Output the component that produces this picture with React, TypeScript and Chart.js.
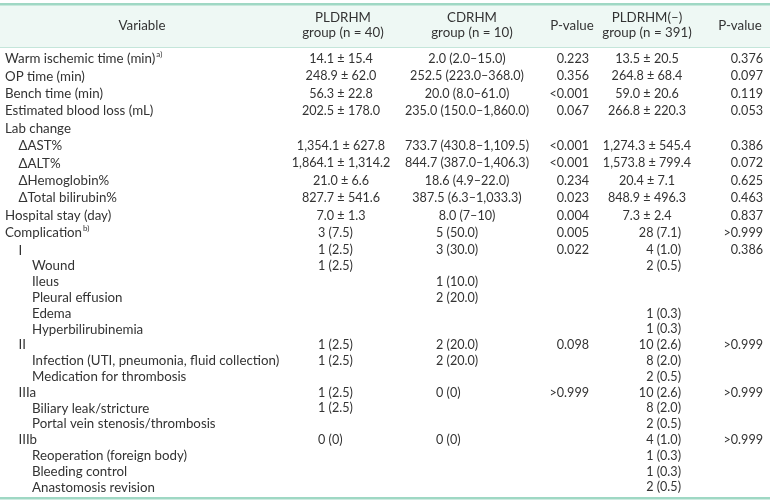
import React, { useEffect, useRef } from "react";
import { Chart, registerables } from "chart.js";

Chart.register(...registerables);

// ---------- data ----------
const headers = ["Variable", "PLDRHM\ngroup (n = 40)", "CDRHM\ngroup (n = 10)", "P-value", "PLDRHM(–)\ngroup (n = 391)", "P-value"];

const variables = [
  "Warm ischemic time (min)", "OP time (min)", "Bench time (min)", "Estimated blood loss (mL)",
  "Lab change", "ΔAST%", "ΔALT%", "ΔHemoglobin%", "ΔTotal bilirubin%",
  "Hospital stay (day)", "Complication", "I", "Wound", "Ileus", "Pleural effusion", "Edema",
  "Hyperbilirubinemia", "II", "Infection (UTI, pneumonia, fluid collection)", "Medication for thrombosis",
  "IIIa", "Biliary leak/stricture", "Portal vein stenosis/thrombosis", "IIIb",
  "Reoperation (foreign body)", "Bleeding control", "Anastomosis revision",
];
const indentLevels = [0, 0, 0, 0, 0, 1, 1, 1, 1, 0, 0, 1, 2, 2, 2, 2, 2, 1, 2, 2, 1, 2, 2, 1, 2, 2, 2];
const footnotes = ["a)", "", "", "", "", "", "", "", "", "", "b)", "", "", "", "", "", "", "", "", "", "", "", "", "", "", "", ""];

const pldrhm = [
  "14.1 ± 15.4", "248.9 ± 62.0", "56.3 ± 22.8", "202.5 ± 178.0", "",
  "1,354.1 ± 627.8", "1,864.1 ± 1,314.2", "21.0 ± 6.6", "827.7 ± 541.6", "7.0 ± 1.3",
  "3 (7.5)", "1 (2.5)", "1 (2.5)", "", "", "", "", "1 (2.5)", "1 (2.5)", "", "1 (2.5)", "1 (2.5)", "", "0 (0)", "", "", "",
];
const cdrhm = [
  "2.0 (2.0–15.0)", "252.5 (223.0–368.0)", "20.0 (8.0–61.0)", "235.0 (150.0–1,860.0)", "",
  "733.7 (430.8–1,109.5)", "844.7 (387.0–1,406.3)", "18.6 (4.9–22.0)", "387.5 (6.3–1,033.3)", "8.0 (7–10)",
  "5 (50.0)", "3 (30.0)", "", "1 (10.0)", "2 (20.0)", "", "", "2 (20.0)", "2 (20.0)", "", "0 (0)", "", "", "0 (0)", "", "", "",
];
const pValue1 = [
  "0.223", "0.356", "<0.001", "0.067", "", "<0.001", "<0.001", "0.234", "0.023", "0.004",
  "0.005", "0.022", "", "", "", "", "", "0.098", "", "", ">0.999", "", "", "", "", "", "",
];
const pldrhmNeg = [
  "13.5 ± 20.5", "264.8 ± 68.4", "59.0 ± 20.6", "266.8 ± 220.3", "",
  "1,274.3 ± 545.4", "1,573.8 ± 799.4", "20.4 ± 7.1", "848.9 ± 496.3", "7.3 ± 2.4",
  "28 (7.1)", "4 (1.0)", "2 (0.5)", "", "", "1 (0.3)", "1 (0.3)", "10 (2.6)", "8 (2.0)", "2 (0.5)",
  "10 (2.6)", "8 (2.0)", "2 (0.5)", "4 (1.0)", "1 (0.3)", "1 (0.3)", "2 (0.5)",
];
const pValue2 = [
  "0.376", "0.097", "0.119", "0.053", "", "0.386", "0.072", "0.625", "0.463", "0.837",
  ">0.999", "0.386", "", "", "", "", "", ">0.999", "", "", ">0.999", "", "", ">0.999", "", "", "",
];

// ---------- layout / style ----------
const W = 770;
const H = 504;
const FONT = '"Lato", "Open Sans", sans-serif';
const FS = 13.3;
const FS_NUM = 12.6;
const TEXT = "#333333";
const GREEN = "#9fd8c4";
const HEAD_BG = "#eef8f4";
const FIRST_COMPLICATION_ROW = 10;
// vertical layout (y scale in layout units, top = 0)
const FIRST_ROW_Y = 59;
const UPPER_PITCH = 17.4;
const LOWER_PITCH = 15.8;
const PITCH_BREAK = 11;
const rowY = (i: number) =>
  i <= PITCH_BREAK
    ? FIRST_ROW_Y + i * UPPER_PITCH
    : FIRST_ROW_Y + PITCH_BREAK * UPPER_PITCH + (i - PITCH_BREAK) * LOWER_PITCH;

type ColSpec = { x: number; align: CanvasTextAlign; countX: number; countAlign: CanvasTextAlign };
const colSpecs: ColSpec[] = [
  { x: 341, align: "center", countX: 318, countAlign: "left" },
  { x: 467, align: "center", countX: 436, countAlign: "left" },
  { x: 589, align: "right", countX: 589, countAlign: "right" },
  { x: 647, align: "center", countX: 681, countAlign: "right" },
  { x: 763, align: "right", countX: 763, countAlign: "right" },
];
const headerCenters = [142, 343, 472, 572, 647, 740];

const tablePlugin = {
  id: "tablePlugin",
  afterDraw(chart: any) {
    const ctx: CanvasRenderingContext2D = chart.ctx;
    const xs = chart.scales.x;
    const ys = chart.scales.y;
    const px = (v: number) => xs.getPixelForValue(v);
    const py = (v: number) => ys.getPixelForValue(v);
    ctx.save();
    const yTop = py(4);
    const yHeadBottom = py(47);
    const yBottom = py(498);
    const x0 = px(0);
    const wAll = px(W) - px(0);
    ctx.fillStyle = HEAD_BG;
    ctx.fillRect(x0, yTop, wAll, yHeadBottom - yTop);
    ctx.fillStyle = GREEN;
    ctx.fillRect(x0, yTop - 1, wAll, 2.5);
    ctx.fillRect(x0, yBottom - 1, wAll, 2.5);
    ctx.fillStyle = "#c4e6da";
    ctx.fillRect(x0, yHeadBottom, wAll, 1);

    ctx.fillStyle = TEXT;
    ctx.textBaseline = "middle";
    ctx.font = `${FS}px ${FONT}`;
    headers.forEach((h, i) => {
      const lines = h.split("\n");
      ctx.textAlign = "center";
      if (lines.length === 1) {
        ctx.fillText(lines[0], px(headerCenters[i]), py(25.5));
      } else {
        ctx.fillText(lines[0], px(headerCenters[i]), py(17.5));
        ctx.fillText(lines[1], px(headerCenters[i]), py(33));
      }
    });
    const cols = [pldrhm, cdrhm, pValue1, pldrhmNeg, pValue2];
    variables.forEach((v, r) => {
      const y = py(rowY(r));
      const xl = px(5 + indentLevels[r] * 13.5);
      ctx.textAlign = "left";
      ctx.font = `${FS}px ${FONT}`;
      ctx.fillText(v, xl, y);
      if (footnotes[r]) {
        const w = ctx.measureText(v).width;
        ctx.font = `8px ${FONT}`;
        ctx.fillText(footnotes[r], xl + w + 1, y - 5);
      }
      ctx.font = `${FS_NUM}px ${FONT}`;
      cols.forEach((col, c) => {
        const t = col[r];
        if (!t) return;
        const spec = colSpecs[c];
        const isCount = r >= FIRST_COMPLICATION_ROW;
        ctx.textAlign = isCount ? spec.countAlign : spec.align;
        ctx.fillText(t, px(isCount ? spec.countX : spec.x), y);
      });
    });
    ctx.restore();
  },
};

export default function App() {
  const ref = useRef<HTMLCanvasElement | null>(null);
  useEffect(() => {
    if (!ref.current) return;
    const chart = new Chart(ref.current, {
      type: "scatter",
      data: { datasets: [] },
      options: {
        animation: false,
        responsive: false,
        events: [],
        layout: { padding: 0 },
        plugins: { legend: { display: false }, tooltip: { enabled: false } },
        scales: {
          x: { type: "linear", display: false, min: 0, max: W },
          y: { type: "linear", display: false, reverse: true, min: 0, max: H },
        },
      },
      plugins: [tablePlugin],
    });
    (document as any).fonts?.ready?.then(() => chart.update());
    return () => chart.destroy();
  }, []);
  return (
    <div style={{ position: "absolute", left: 0, top: 0, width: W, height: H, background: "#fff" }}>
      <canvas ref={ref} width={W} height={H} style={{ display: "block", width: W, height: H }} />
    </div>
  );
}
